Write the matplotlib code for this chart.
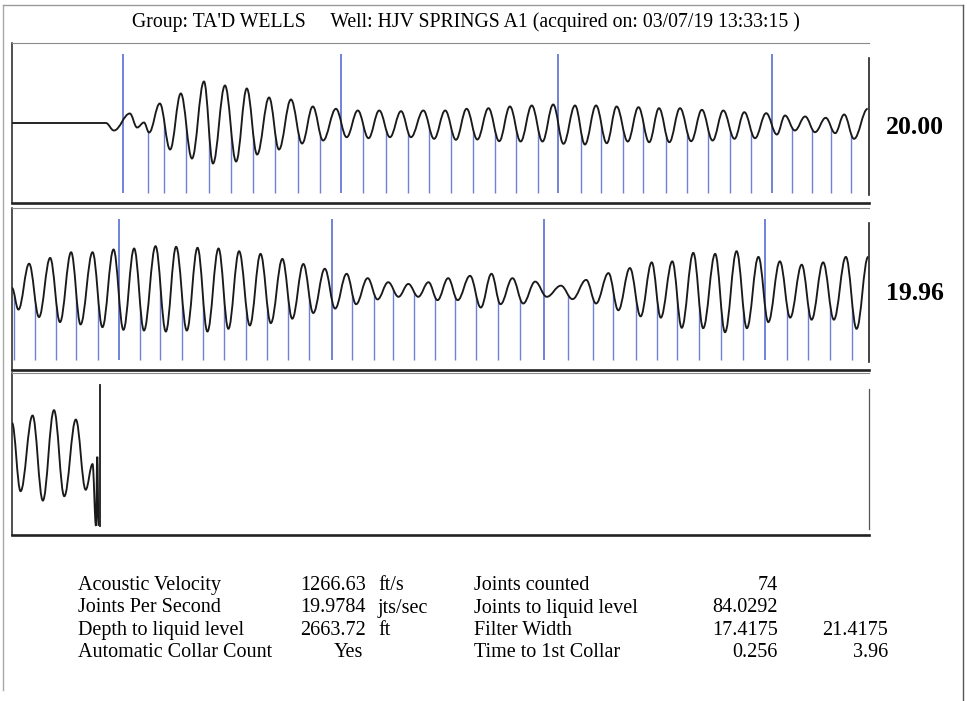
import numpy as np
import matplotlib.pyplot as plt
from matplotlib.path import Path
from matplotlib.patches import PathPatch
from matplotlib.lines import Line2D

plt.rcParams['font.family'] = ['Liberation Serif', 'DejaVu Serif']

title = "Group: TA'D WELLS     Well: HJV SPRINGS A1 (acquired on: 03/07/19 13:33:15 )"

# acoustic trace, extrema (time in ms from panel start, amplitude in arbitrary units)
trace1_t = [0, 219, 238, 275, 292, 308, 320, 345, 369, 394, 420, 448, 469, 497, 523, 548, 572,
            600, 623, 651, 677, 702, 726, 756, 781, 807, 832, 857, 882, 908, 931, 960, 985,
            1011, 1036, 1061, 1086, 1112, 1137, 1162, 1187, 1213, 1238, 1263, 1287, 1314, 1337,
            1363, 1388, 1411, 1437, 1462, 1487, 1510, 1534, 1559, 1585, 1610, 1635, 1660, 1686,
            1709, 1734, 1760, 1785, 1804, 1827, 1851, 1874, 1899, 1921, 1942, 1965, 1997]
trace1_a = [0, 0, -7.5, 9.5, -4.5, 0.5, -9.5, 19.5, -26.5, 29.5, -35.5, 41.5, -40.5, 37.5, -38.5, 34.5, -31.5,
            25.5, -26.5, 23.5, -20.5, 16.5, -17.5, 14.2, -14.2, 12.5, -15.2, 12.5, -14.2, 11.8, -14.2, 12.5, -15.8,
            12.5, -16.8, 14.2, -16.5, 14.8, -18.2, 16.5, -18.5, 17.5, -18.5, 18.5, -20.8, 17.5, -21.5,
            17.5, -20.2, 16.5, -18.5, 15.8, -19.2, 14.8, -19.2, 14.8, -18.2, 13.2, -17.5, 12.5, -15.8,
            10.8, -15.2, 9.8, -11.5, 7.5, -7.5, 6.5, -9.2, 5.2, -10.2, 8.5, -15.8, 14.2]

trace2_t = [0, 15, 40, 63, 89, 112, 138, 160, 188, 211, 237, 260, 285, 308, 335, 359, 383, 408,
            433, 456, 482, 505, 530, 555, 580, 604, 631, 654, 680, 703, 730, 754, 781, 803, 830,
            853, 878, 902, 925, 948, 972, 993, 1018, 1040, 1069, 1094, 1119, 1140, 1168, 1193,
            1221, 1248, 1281, 1308, 1340, 1363, 1392, 1415, 1442, 1467, 1493, 1514, 1541, 1563,
            1590, 1613, 1641, 1664, 1691, 1715, 1742, 1765, 1792, 1816, 1843, 1866, 1893, 1918,
            1946, 1971, 1998]
trace2_a = [1, -20.3, 25, -27.7, 30.7, -32.7, 36.3, -35, 36.3, -37.7, 39, -40.3, 40, -41, 42.3, -42, 41.7, -41,
            40.7, -42, 40, -39.3, 37.3, -36, 34.7, -33.7, 29.7, -29.3, 24.7, -23.7, 20, -19.3, 15, -15, 10.7,
            -10.3, 6.7, -7.7, 5, -7.7, 6.7, -11, 10.7, -11, 13, -18.3, 15, -15, 10.7, -14.3,
            7.3, -7.7, 3.3, -10, 9, -14.3, 15.7, -21, 20.7, -27, 26.3, -28.3, 27.3, -38.3,
            35.7, -38.7, 34.7, -42.7, 37.3, -38.7, 31.7, -32.7, 27.3, -28.3, 24, -30.3, 26.3, -30.3,
            31.7, -39.3, 31.7]

trace3_t = [0, 20, 48, 72, 98, 122, 149, 172, 188, 196, 199, 202]
trace3_a = [30.7, -36.7, 38, -46, 43.3, -41.7, 34, -35.3, -10, -71, -2.7, -71]

# detected collars (ms from panel start)
collars1 = [259, 317, 355, 406, 460, 511, 562, 614, 667, 719, 768, 819, 873, 924, 973, 1025, 1076,
            1127, 1176, 1228, 1274, 1328, 1375, 1426, 1473, 1526, 1575, 1624, 1676, 1725, 1774,
            1820, 1867, 1911, 1958]
collars2 = [5, 54, 103, 149, 201, 250, 299, 345, 397, 446, 495, 546, 595, 644, 693, 747, 794, 845,
            889, 938, 987, 1034, 1083, 1134, 1186, 1242, 1298, 1356, 1403, 1456, 1505, 1552, 1603,
            1655, 1706, 1757, 1809, 1858, 1909, 1960]

panel_rates = ["20.00", "19.96", None]

acoustic_velocity = 1266.63
depth_to_liquid = 2663.72

labels_left = ["Acoustic Velocity", "Joints Per Second", "Depth to liquid level", "Automatic Collar Count"]
values_left = ["1266.63", "19.9784", "2663.72", "Yes"]
units_left = ["ft/s", "jts/sec", "ft", ""]
labels_right = ["Joints counted", "Joints to liquid level", "Filter Width", "Time to 1st Collar"]
values_right = ["74", "84.0292", "17.4175", "0.256"]
values_extra = ["", "", "21.4175", "3.96"]

W, H = 967, 701
fig = plt.figure(figsize=(W / 100, H / 100), dpi=100)


def fx(x):
    return x / W


def fy(y):
    return 1 - y / H


def trace_path(t, a, bottom=None):
    verts = [(t[0], a[0])]
    codes = [Path.MOVETO]
    for i in range(len(t) - 1):
        dt = t[i + 1] - t[i]
        verts += [(t[i] + 0.38 * dt, a[i]), (t[i + 1] - 0.38 * dt, a[i + 1]), (t[i + 1], a[i + 1])]
        codes += [Path.CURVE4] * 3
    if bottom is not None:
        verts += [(t[-1], bottom), (t[0], bottom), (t[0], a[0])]
        codes += [Path.LINETO, Path.LINETO, Path.CLOSEPOLY]
    return Path(verts, codes)


def fig_line(x0, y0, x1, y1, color, lw):
    fig.add_artist(Line2D([fx(x0), fx(x1)], [fy(y0), fy(y1)], transform=fig.transFigure,
                          color=color, lw=lw))


# page frame
fig_line(3, 5, 963, 5, '#9a9a9a', 1.0)
fig_line(3, 5, 3, 690, '#a8a8a8', 1.0)
fig_line(963, 5, 963, 701, '#555555', 1.0)

fig.text(fx(466), fy(22), title, ha='center', va='center', fontsize=14.2)

panels = [(43, 203), (208, 370), (373, 535)]
traces = [(trace1_t, trace1_a), (trace2_t, trace2_a), (trace3_t, trace3_a)]
collars = [collars1, collars2, []]
offset = 0
for k, (top, bot) in enumerate(panels):
    ax = fig.add_axes([fx(12), fy(bot), (869 - 12) / W, (bot - top) / H])
    ax.set_xlim(0, 2000)
    ax.set_ylim(-80, 80)
    ax.set_xticks([])
    ax.set_yticks([])
    ax.spines['right'].set_visible(False)
    ax.spines['top'].set_color('#8a8a8a')
    ax.spines['top'].set_linewidth(0.8)
    ax.spines['bottom'].set_color('#222222')
    ax.spines['bottom'].set_linewidth(1.9)
    ax.spines['left'].set_color('#222222')
    ax.spines['left'].set_linewidth(1.1)

    t, a = traces[k]
    ax.add_patch(PathPatch(trace_path(t, a), fill=False, edgecolor='#1a1a1a', lw=1.35, zorder=3))

    c = collars[k]
    if c:
        tall = [x for i, x in enumerate(c) if (offset + i) % 10 == 0]
        short = [x for i, x in enumerate(c) if (offset + i) % 10 != 0]
        clip = PathPatch(trace_path(t, a, bottom=-80), facecolor='none', edgecolor='none')
        ax.add_patch(clip)
        lc = ax.vlines(short, -70, 80, colors='#7080d6', lw=1.0, zorder=2)
        lc.set_clip_path(clip)
        ax.vlines(tall, -70, 69, colors='#4a62d0', lw=1.1, zorder=2)
        offset += len(c)

    if k < 2:
        ax.plot([2000, 2000], [-72, 65], color='#222222', lw=1.2, clip_on=False)
    else:
        ax.plot([2000, 2000], [-74, 64], color='#555555', lw=0.9, clip_on=False)
        t_ll = (2 * depth_to_liquid / acoustic_velocity - 4) * 1000
        ax.plot([t_ll, t_ll], [-71, 68], color='#1a1a1a', lw=1.3)

    if panel_rates[k]:
        fig.text(fx(915), fy((top + bot) / 2 + 4), panel_rates[k], ha='center', va='center',
                 fontsize=18.5, fontweight='bold')

rows = [590, 612.5, 635, 657]
fs = 14.5
for i, y in enumerate(rows):
    fig.text(fx(78), fy(y), labels_left[i], ha='left', va='baseline', fontsize=fs)
    if values_left[i] == 'Yes':
        fig.text(fx(348), fy(y), values_left[i], ha='center', va='baseline', fontsize=fs)
    else:
        fig.text(fx(366), fy(y), values_left[i], ha='right', va='baseline', fontsize=fs)
    fig.text(fx(378), fy(y), units_left[i], ha='left', va='baseline', fontsize=fs)
    fig.text(fx(474), fy(y), labels_right[i], ha='left', va='baseline', fontsize=fs)
    fig.text(fx(778), fy(y), values_right[i], ha='right', va='baseline', fontsize=fs)
    fig.text(fx(888), fy(y), values_extra[i], ha='right', va='baseline', fontsize=fs)

fig.savefig('out.png', dpi=100)
